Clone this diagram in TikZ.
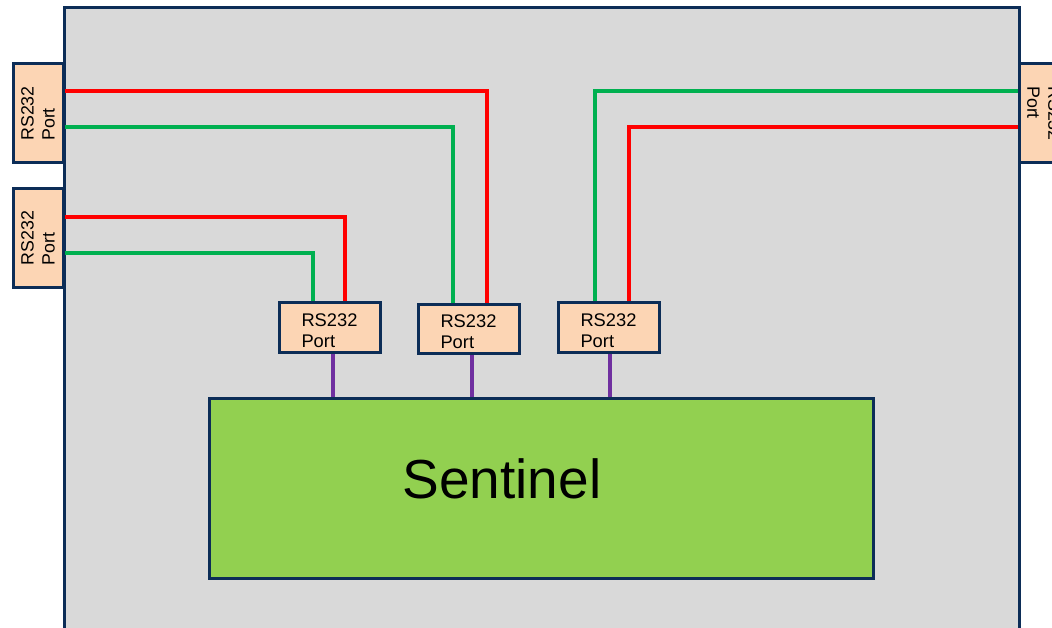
\documentclass[tikz,border=0pt]{standalone}
\usepackage{fontspec}
\setmainfont{Liberation Sans}
\definecolor{navy}{HTML}{0C2D57}
\definecolor{peach}{HTML}{FCD5B4}
\definecolor{panel}{HTML}{D9D9D9}
\definecolor{lime}{HTML}{92D050}
\definecolor{wred}{HTML}{FF0000}
\definecolor{wgreen}{HTML}{00B050}
\definecolor{wpurple}{HTML}{7030A0}
\tikzset{
  portbox/.style={draw=navy, line width=3pt, fill=peach, minimum width=101pt, minimum height=49pt, inner sep=0pt},
  porttext/.style={align=left, font=\fontsize{18.3}{21}\selectfont, inner sep=0pt},
  sideport/.style={draw=navy, line width=3pt, fill=peach, minimum width=50pt, minimum height=99pt, inner sep=0pt},
  sidetext/.style={align=left, font=\fontsize{17.8}{21}\selectfont, inner sep=0pt},
  redw/.style={draw=wred, line width=4pt},
  greenw/.style={draw=wgreen, line width=4pt},
  purplew/.style={draw=wpurple, line width=4pt},
}
\begin{document}
\begin{tikzpicture}[x=1pt,y=-1pt]
\useasboundingbox (0,0) rectangle (1052,628);
% main panel
\draw[navy, line width=3pt, fill=panel] (64,660) -- (64,8) -- (1019,8) -- (1019,660);
% side ports
\node[sideport] (lp1) at (38,113.5) {};
\node[sidetext, rotate=90] at (lp1) {RS232\\Port};
\node[sideport] (lp2) at (38,238) {};
\node[sidetext, rotate=90] at (lp2) {RS232\\Port};
\node[sideport] (rp) at (1044,113.5) {};
\node[sidetext, rotate=-90] at (rp) {RS232\\Port};
% small ports
\node[portbox] (pA) at (329.5,327.5) {};
\node[portbox] (pB) at (468.5,329) {};
\node[portbox] (pC) at (608.5,327.5) {};
% sentinel
\node[draw=navy, line width=3pt, fill=lime, minimum width=664pt, minimum height=180pt, inner sep=0pt] (sen) at (541,488) {};
\node[font=\fontsize{55}{66}\selectfont, inner sep=0pt] (st) at (502,479) {Sentinel};
% wires
\draw[redw] (lp1.east |- 0,91) -| (pB.north -| 487,0);
\draw[greenw] (lp1.east |- 0,127) -| (pB.north -| 453,0);
\draw[redw] (lp2.east |- 0,217) -| (pA.north -| 345,0);
\draw[greenw] (lp2.east |- 0,253) -| (pA.north -| 313,0);
\draw[greenw] (rp.west |- 0,91) -| (pC.north -| 595,0);
\draw[redw] (rp.west |- 0,127) -| (pC.north -| 629,0);
% purple links
\draw[purplew] (pA.south -| 333,0) -- (sen.north -| 333,0);
\draw[purplew] (pB.south -| 472,0) -- (sen.north -| 472,0);
\draw[purplew] (pC.south -| 610,0) -- (sen.north -| 610,0);
% port boxes over wire ends, with labels
\node[portbox] at (pA) {};
\node[portbox] at (pB) {};
\node[portbox] at (pC) {};
\node[porttext] at ([yshift=-3pt]pA.center) {RS232\\Port};
\node[porttext] at ([yshift=-3pt]pB.center) {RS232\\Port};
\node[porttext] at ([yshift=-3pt]pC.center) {RS232\\Port};
\end{tikzpicture}
\end{document}
